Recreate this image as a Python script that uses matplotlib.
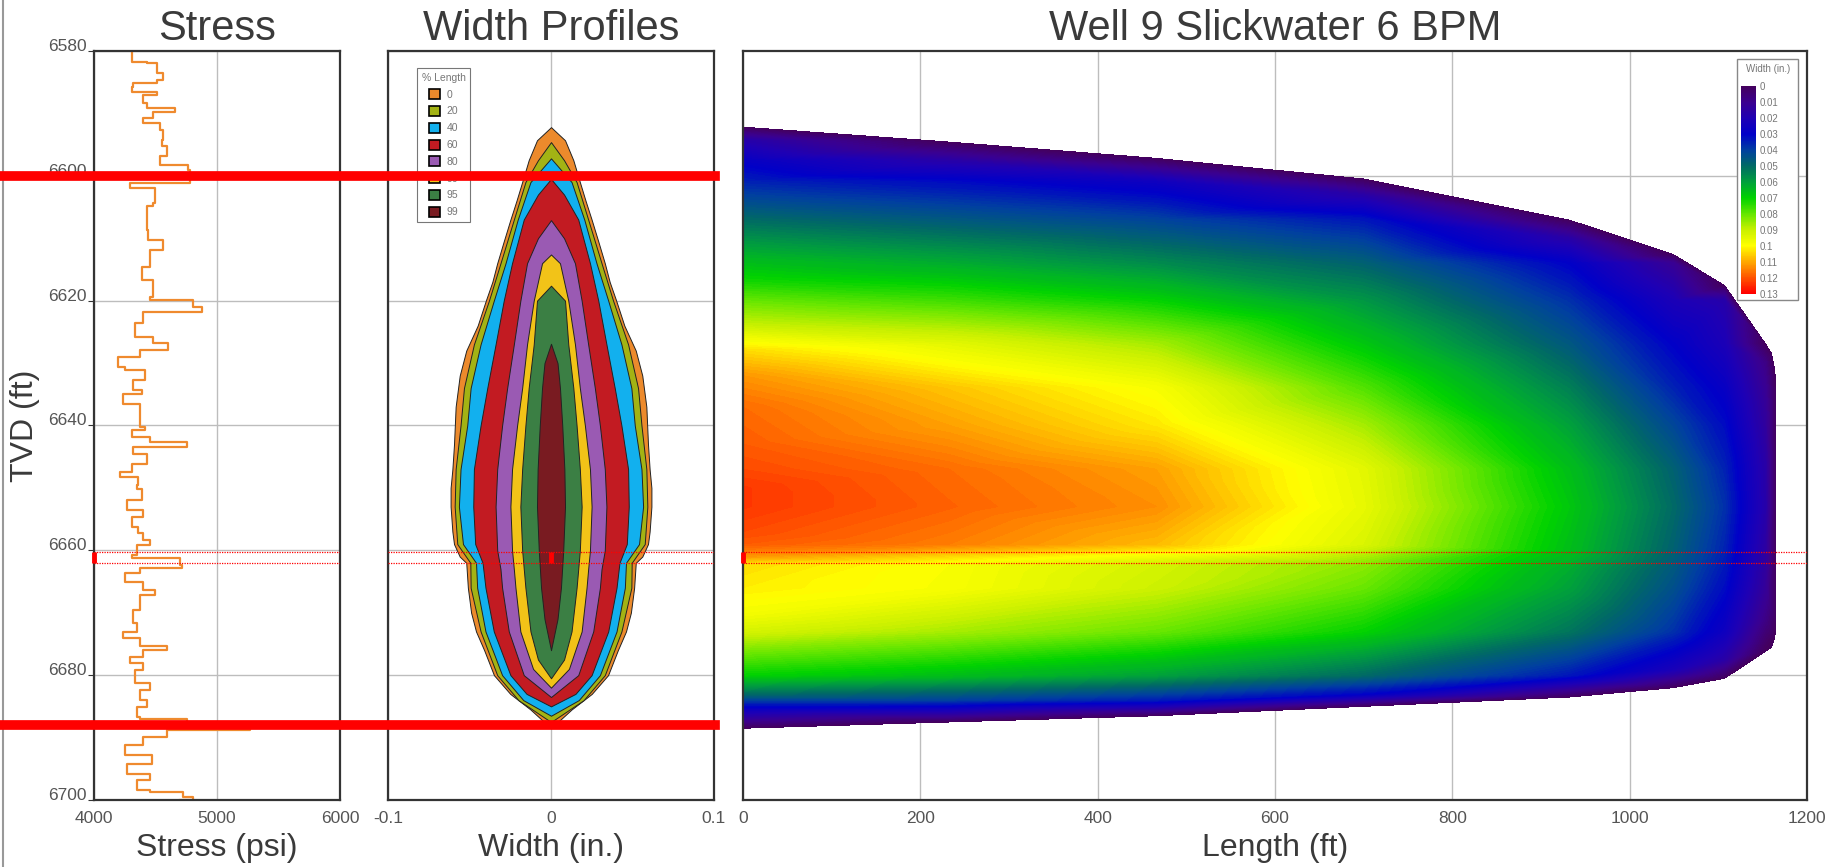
import numpy as np
import matplotlib
matplotlib.use("Agg")
import matplotlib.pyplot as plt
import matplotlib.tri as mtri
import matplotlib.transforms as mtransforms
from matplotlib.colors import LinearSegmentedColormap, Normalize
from matplotlib.cm import ScalarMappable
from matplotlib.patches import Patch, Rectangle
from matplotlib.lines import Line2D

plt.rcParams['font.family'] = ['Liberation Sans', 'DejaVu Sans']

# stress log (TVD ft, psi)
stress_depth = [6580.1, 6581.7, 6582.0, 6583.6, 6584.6, 6585.2, 6585.7, 6586.5, 6587.1, 6588.4,
                6589.2, 6589.7, 6590.8, 6591.6, 6592.7, 6594.3, 6595.3, 6596.9, 6598.3, 6599.1,
                6601.1, 6602.0, 6604.4, 6604.9, 6608.7, 6610.3, 6611.9, 6614.6, 6616.7, 6619.4,
                6619.9, 6621.0, 6621.8, 6623.6, 6625.8, 6626.8, 6627.9, 6629.0, 6630.6, 6631.1,
                6632.7, 6634.3, 6634.9, 6636.5, 6639.7, 6640.2, 6640.7, 6641.8, 6642.6, 6643.4,
                6644.5, 6646.1, 6647.4, 6648.2, 6649.5, 6650.1, 6652.0, 6653.6, 6654.6, 6656.2,
                6657.3, 6658.4, 6659.2, 6660.8, 6661.3, 6662.4, 6662.9, 6663.7, 6665.0, 6666.4,
                6667.2, 6669.6, 6671.7, 6673.1, 6674.1, 6675.4, 6676.0, 6677.1, 6678.1, 6679.2,
                6681.3, 6682.4, 6684.0, 6685.1, 6686.7, 6687.1, 6688.0, 6688.8, 6689.9, 6691.2,
                6692.8, 6694.2, 6695.8, 6696.8, 6698.4, 6698.7, 6699.5, 6700.0]
stress_psi = [4306, 4428, 4510, 4558, 4510, 4320, 4306, 4510, 4400, 4428,
              4658, 4482, 4400, 4537, 4558, 4550, 4590, 4537, 4767, 4780,
              4293, 4496, 4482, 4428, 4442, 4564, 4455, 4388, 4482, 4455,
              4808, 4875, 4400, 4333, 4482, 4604, 4374, 4198, 4252, 4415,
              4320, 4388, 4238, 4374, 4374, 4415, 4306, 4455, 4753, 4320,
              4428, 4306, 4211, 4360, 4347, 4388, 4266, 4400, 4306, 4360,
              4400, 4455, 4347, 4306, 4699, 4713, 4374, 4252, 4400, 4496,
              4374, 4320, 4347, 4238, 4374, 4590, 4400, 4293, 4400, 4333,
              4455, 4374, 4428, 4347, 4374, 4753, 5268, 4590, 4400, 4252,
              4469, 4266, 4455, 4347, 4455, 4726, 4808, 4699]

# width profiles: half width (in.) vs TVD for each % of fracture length
pct_length = [0, 20, 40, 60, 80, 90, 95, 99]
pct_colors = ['#ec8a2c', '#a3b314', '#12b0ee', '#c21b22', '#9a5ab3', '#f2c318', '#3b7f44', '#791b21']

depth_p0 = [6592.2, 6594.3, 6597.5, 6601, 6604, 6607, 6610.5, 6614, 6617, 6620, 6624, 6628, 6632,
            6637, 6643, 6647, 6650, 6653, 6657, 6659, 6661, 6662, 6666, 6670, 6673, 6676, 6680,
            6683, 6685.5, 6688.5]
width_p0 = [0, 0.0086, 0.0137, 0.0177, 0.0212, 0.0249, 0.029, 0.033, 0.036, 0.040, 0.045, 0.052,
            0.056, 0.0585, 0.0595, 0.0605, 0.0616, 0.0616, 0.0605, 0.0595, 0.056, 0.052, 0.051,
            0.049, 0.046, 0.041, 0.035, 0.025, 0.0126, 0]
depth_p20 = [6594.6, 6597.5, 6601, 6607, 6614, 6620, 6627, 6634, 6640, 6647, 6653, 6659, 6662,
             6666, 6673, 6680, 6684, 6687.5]
width_p20 = [0, 0.008, 0.0157, 0.0228, 0.031, 0.0381, 0.0473, 0.0534, 0.0555, 0.0585, 0.0591,
             0.0575, 0.0495, 0.0493, 0.0432, 0.033, 0.02, 0]
depth_p40 = [6597.2, 6601, 6607, 6614, 6620, 6627, 6634, 6640, 6647, 6653, 6659, 6662, 6666,
             6673, 6680, 6684, 6686.5]
width_p40 = [0, 0.0126, 0.0204, 0.0279, 0.0351, 0.0432, 0.0493, 0.0514, 0.0555, 0.0565, 0.054,
             0.046, 0.0453, 0.0402, 0.030, 0.017, 0]
depth_p60 = [6600.5, 6603, 6607, 6614, 6620, 6627, 6634, 6640, 6647, 6653, 6659, 6662, 6666,
             6673, 6680, 6683, 6685]
width_p60 = [0, 0.008, 0.0167, 0.0239, 0.029, 0.034, 0.0391, 0.0432, 0.0473, 0.0477, 0.0465,
             0.042, 0.0402, 0.0351, 0.0249, 0.015, 0]
depth_p80 = [6607.1, 6610, 6614, 6620, 6627, 6634, 6640, 6647, 6653, 6660, 6663, 6666, 6673,
             6680, 6683.5]
width_p80 = [0, 0.008, 0.0147, 0.0188, 0.0228, 0.0269, 0.030, 0.033, 0.034, 0.033, 0.031, 0.030,
             0.0259, 0.0167, 0]
depth_p90 = [6612.6, 6614, 6620, 6627, 6634, 6640, 6647, 6653, 6660, 6663, 6666, 6673, 6679, 6682]
width_p90 = [0, 0.0055, 0.0106, 0.0147, 0.0177, 0.0208, 0.0239, 0.0249, 0.0239, 0.0228, 0.0218,
             0.0188, 0.011, 0]
depth_p95 = [6617.6, 6620, 6627, 6634, 6640, 6647, 6653, 6660, 6663, 6666, 6673, 6677.5, 6680.5]
width_p95 = [0, 0.0086, 0.0106, 0.0137, 0.0157, 0.0177, 0.0188, 0.0177, 0.0167, 0.0157, 0.0126,
             0.008, 0]
depth_p99 = [6626.9, 6630, 6634, 6640, 6647, 6653, 6660, 6666, 6671, 6676]
width_p99 = [0, 0.004, 0.0055, 0.0069, 0.0082, 0.0086, 0.0075, 0.0061, 0.004, 0]

# fracture length where each profile sits, and the rounded tip edge (zero width)
length_at_pct = [0, 233, 466, 699, 932, 1049, 1107, 1153]
tip_length = [1160, 1163.5, 1165, 1165, 1165, 1165, 1165, 1163.5, 1160]
tip_depth = [6628.5, 6631, 6634, 6643, 6653, 6663, 6672, 6674, 6675.5]

# colour scale of the width map
cbar_ticks = [0, 0.01, 0.02, 0.03, 0.04, 0.05, 0.06, 0.07, 0.08, 0.09, 0.1, 0.11, 0.12, 0.13]
cbar_colors = ['#44005e', '#3a0090', '#1e00b4', '#0000c8', '#0040a0', '#006a64', '#00a03c',
               '#00d200', '#64e600', '#c8f000', '#ffff00', '#ffaa00', '#ff5500', '#ff0000']

zone_top, zone_bottom = 6600, 6688
perf_top, perf_bottom = 6660.3, 6662.1

profile_depths = [depth_p0, depth_p20, depth_p40, depth_p60, depth_p80, depth_p90, depth_p95, depth_p99]
profile_widths = [width_p0, width_p20, width_p40, width_p60, width_p80, width_p90, width_p95, width_p99]

W, H = 1833, 867
fig = plt.figure(figsize=(W / 100, H / 100), dpi=100)
ax1 = fig.add_axes([94 / W, 1 - 800 / H, 246 / W, 749 / H])
ax2 = fig.add_axes([388 / W, 1 - 800 / H, 326 / W, 749 / H])
ax3 = fig.add_axes([743 / W, 1 - 800 / H, 1064 / W, 749 / H])

tick_col = '#555555'
for ax in (ax1, ax2, ax3):
    ax.set_ylim(6700, 6580)
    for s in ax.spines.values():
        s.set_color('#333333')
        s.set_linewidth(1.6)
    ax.grid(True, color='#bdbdbd', lw=1)
    ax.set_axisbelow(True)
    ax.tick_params(axis='x', length=0, labelsize=12.5, labelcolor=tick_col, pad=8)
    ax.tick_params(axis='y', length=0, labelsize=12.5, labelcolor=tick_col)

# stress track
ax1.plot(stress_psi, stress_depth, color='#ef8a2e', lw=1.6, drawstyle='steps-pre')
ax1.set_xlim(4000, 6000)
ax1.set_xticks([4000, 5000, 6000])
ax1.set_yticks(range(6580, 6701, 20))
ax1.tick_params(axis='y', length=4, color='#333333', pad=1)
for lab in ax1.get_yticklabels():
    lab.set_va('baseline')
ax1.set_title('Stress', fontsize=30, color='#3a3a3a', pad=8)
ax1.set_xlabel('Stress (psi)', fontsize=23, color='#3a3a3a', labelpad=5)
ax1.set_ylabel('TVD (ft)', fontsize=23, color='#3a3a3a', labelpad=6)

# width profiles
for dz, hw, c in zip(profile_depths, profile_widths, pct_colors):
    hw = np.array(hw)
    ax2.fill_betweenx(dz, -hw, hw, facecolor=c, edgecolor='#222222', lw=0.7, zorder=2)
ax2.set_xlim(-0.1, 0.1)
ax2.set_xticks([-0.1, 0, 0.1])
ax2.set_xticklabels(['-0.1', '0', '0.1'])
ax2.set_yticks(range(6580, 6701, 20))
ax2.set_yticklabels([])
ax2.set_title('Width Profiles', fontsize=30, color='#3a3a3a', pad=8)
ax2.set_xlabel('Width (in.)', fontsize=23, color='#3a3a3a', labelpad=5)
handles = [Patch(facecolor=c, edgecolor='black', lw=1.2) for c in pct_colors]
leg = ax2.legend(handles, [str(p) for p in pct_length], title='% Length', loc='upper left',
                 bbox_to_anchor=(0.089, 0.977), fontsize=7.5, title_fontsize=7.5, fancybox=False,
                 edgecolor='#777777', framealpha=1, borderaxespad=0, handlelength=1.1,
                 handleheight=1.1, handletextpad=0.6, labelspacing=0.6, borderpad=0.45)
leg.get_frame().set_linewidth(0.8)
leg.set_zorder(5)
for t in leg.get_texts():
    t.set_color('#777777')
leg.get_title().set_color('#777777')

# width map along the fracture length
cmap = LinearSegmentedColormap.from_list('width', list(zip(np.array(cbar_ticks) / 0.13, cbar_colors)))
pL, pz, pw = [], [], []
for L, dz, hw in zip(length_at_pct, profile_depths, profile_widths):
    pL += [L] * len(dz)
    pz += list(dz)
    pw += [2 * w for w in hw]
pL += tip_length
pz += tip_depth
pw += [0] * len(tip_depth)
pL, pz, pw = np.array(pL, float), np.array(pz, float), np.array(pw, float)
tri_px = mtri.Triangulation(pL * 1064 / 1200, pz * 6.24)
tri = mtri.Triangulation(pL, pz, triangles=tri_px.triangles)
ax3.tricontourf(tri, pw, levels=np.linspace(0, 0.13, 131), cmap=cmap, zorder=2)
ax3.set_xlim(0, 1200)
ax3.set_xticks(range(0, 1201, 200))
ax3.set_yticks([6600, 6640, 6680])
ax3.set_yticklabels([])
ax3.set_title('Well 9 Slickwater 6 BPM', fontsize=30, color='#3a3a3a', pad=8)
ax3.set_xlabel('Length (ft)', fontsize=23, color='#3a3a3a', labelpad=5)

ax3.add_patch(Rectangle((0.934, 0.668), 0.058, 0.321, transform=ax3.transAxes, facecolor='white',
                        edgecolor='#888888', lw=1, zorder=4))
ax3.text(0.963, 0.976, 'Width (in.)', transform=ax3.transAxes, fontsize=7, color='#777777',
         ha='center', va='center', zorder=6)
cax = ax3.inset_axes([0.938, 0.676, 0.014, 0.277])
cb = fig.colorbar(ScalarMappable(norm=Normalize(0, 0.13), cmap=cmap), cax=cax, ticks=cbar_ticks)
cax.invert_yaxis()
cb.outline.set_visible(False)
cb.set_ticklabels(['0'] + ['%g' % t for t in cbar_ticks[1:]])
cax.tick_params(length=0, labelsize=7, labelcolor='#777777', pad=3)

# perforation interval
for ax, xm in ((ax1, 4000), (ax2, 0), (ax3, 0)):
    for d in (perf_top, perf_bottom):
        ax.axhline(d, color='red', lw=0.9, ls=(0, (1, 1)), zorder=7)
    ax.plot([xm, xm], [perf_top, perf_bottom], color='red', lw=3.5, solid_capstyle='butt',
            zorder=8, clip_on=False)

# zone boundaries across stress and width tracks
trans = mtransforms.blended_transform_factory(fig.transFigure, ax1.transData)
for d in (zone_top, zone_bottom):
    fig.add_artist(Line2D([0, 715 / W], [d, d], transform=trans, color='#ff0000', lw=7, zorder=10))
fig.add_artist(Line2D([3 / W, 3 / W], [0, 1], transform=fig.transFigure, color='#999999', lw=1.5))

fig.savefig('out.png', dpi=100)
